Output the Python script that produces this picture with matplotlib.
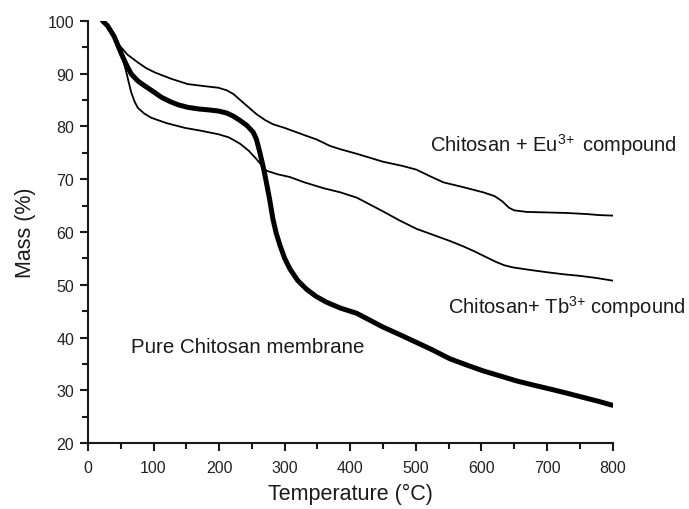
import numpy as np
import matplotlib.pyplot as plt

plt.rcParams['font.family'] = ['Liberation Sans', 'DejaVu Sans']
plt.rcParams['mathtext.fontset'] = 'custom'
plt.rcParams['mathtext.rm'] = 'Liberation Sans'
plt.rcParams['mathtext.it'] = 'Liberation Sans:italic'

# TGA curves, temperature (C) vs residual mass (%)
temp_pure = [22, 30, 40, 51, 58, 66, 76, 86, 97, 112, 125, 137, 152, 168, 185, 199,
             212, 222, 232, 242, 252, 257, 262, 266, 270, 277, 282, 287, 293, 300,
             308, 320, 333, 348, 364, 385, 410, 450, 475, 501, 525, 552, 578, 603,
             630, 654, 680, 704, 730, 755, 780, 800]
mass_pure = [100, 99.0, 97.0, 93.7, 91.8, 89.9, 88.6, 87.7, 86.8, 85.5, 84.7, 84.1, 83.6, 83.3, 83.1, 82.9,
             82.5, 81.9, 81.1, 80.2, 78.9, 77.5, 75.1, 73.0, 70.7, 66.2, 62.5, 59.8, 57.4, 55.0,
             53.0, 50.8, 49.2, 47.8, 46.7, 45.6, 44.6, 42.0, 40.6, 39.1, 37.7, 36.0, 34.8, 33.7,
             32.7, 31.8, 31.0, 30.3, 29.5, 28.7, 27.9, 27.2]

temp_eu = [22, 30, 40, 48, 60, 76, 89, 102, 127, 152, 178, 199, 212, 222, 232, 245,
           257, 270, 282, 300, 333, 349, 369, 384, 410, 450, 480, 501, 521, 542, 572,
           603, 620, 632, 642, 650, 669, 700, 730, 760, 780, 800]
mass_eu = [100, 99.0, 97.0, 95.3, 93.6, 92.1, 91.0, 90.2, 89.0, 88.0, 87.6, 87.3, 86.8, 86.1, 85.0, 83.6,
           82.3, 81.2, 80.4, 79.7, 78.2, 77.5, 76.3, 75.7, 74.8, 73.3, 72.5, 71.8, 70.6, 69.4, 68.5,
           67.5, 66.8, 65.8, 64.6, 64.1, 63.8, 63.7, 63.6, 63.4, 63.2, 63.1]

temp_tb = [22, 30, 40, 51, 58, 62, 66, 71, 76, 86, 97, 120, 148, 171, 199, 215, 232,
           245, 257, 265, 272, 290, 308, 330, 359, 385, 410, 430, 450, 475, 501, 521,
           552, 572, 590, 603, 623, 635, 648, 675, 699, 725, 750, 775, 800]
mass_tb = [100, 99.0, 97.0, 93.7, 90.5, 88.4, 86.4, 84.7, 83.5, 82.4, 81.6, 80.6, 79.7, 79.2, 78.5, 77.9, 76.7,
           75.4, 73.8, 72.6, 71.6, 70.9, 70.4, 69.4, 68.3, 67.5, 66.5, 65.2, 63.9, 62.2, 60.6, 59.7,
           58.3, 57.3, 56.3, 55.5, 54.3, 53.7, 53.3, 52.8, 52.4, 52.0, 51.7, 51.3, 50.8]

fig = plt.figure(figsize=(6.89, 5.10), dpi=100)
ax = fig.add_axes([0.1277, 0.1288, 0.7613, 0.8287])

ax.plot(temp_eu, mass_eu, color='black', lw=1.3)
ax.plot(temp_tb, mass_tb, color='black', lw=1.3)
ax.plot(temp_pure, mass_pure, color='black', lw=3.6, solid_capstyle='round')

txt = dict(fontsize=14.5, color='#1a1a1a', va='center', ha='left')
ax.text(521, 76.7, r'Chitosan + Eu$^{\text{3+}}\,$ compound', **txt)
ax.text(549, 46.0, r'Chitosan+ Tb$^{\text{3+}}$ compound', clip_on=False, **txt)
ax.text(65, 38.3, 'Pure Chitosan membrane', fontsize=14.8, color='#1a1a1a', va='center', ha='left')

ax.set_xlim(0, 800)
ax.set_ylim(20, 100)
ax.set_xticks(np.arange(0, 801, 100))
ax.set_xticks(np.arange(50, 800, 100), minor=True)
ax.set_yticks(np.arange(20, 101, 10))
ax.set_yticks(np.arange(25, 100, 10), minor=True)

for side in ['top', 'right']:
    ax.spines[side].set_visible(False)
for side in ['left', 'bottom']:
    ax.spines[side].set_linewidth(1.5)
    ax.spines[side].set_color('#1a1a1a')

ax.tick_params(which='major', direction='out', length=6, width=1.5, labelsize=11.5,
               color='#1a1a1a', labelcolor='#222222')
ax.tick_params(axis='x', which='major', pad=6)
ax.tick_params(axis='y', which='major', pad=4)
ax.tick_params(which='minor', direction='out', length=4, width=1.5, color='#1a1a1a')

ax.set_xlabel('Temperature (\u00b0C)', fontsize=15.5, color='#1a1a1a', labelpad=6)
ax.set_ylabel('Mass (%)', fontsize=15.5, color='#1a1a1a', labelpad=8)

fig.savefig('out.png', dpi=100)
